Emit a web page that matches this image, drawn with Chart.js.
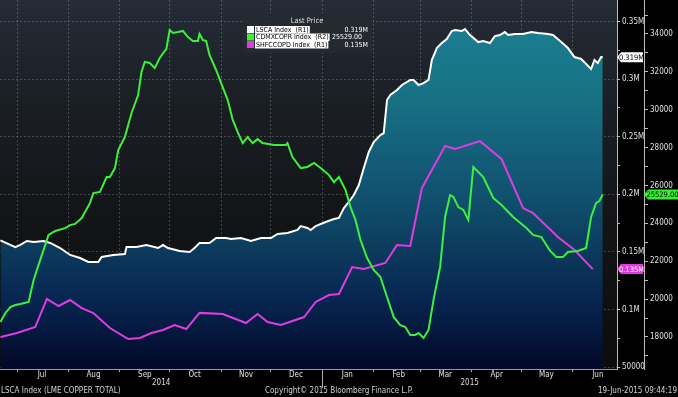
<!DOCTYPE html>
<html>
<head>
<meta charset="utf-8">
<title>LSCA Index (LME COPPER TOTAL)</title>
<script src="https://cdn.jsdelivr.net/npm/chart.js@4.4.1/dist/chart.umd.min.js"></script>
<style>
  html, body { margin: 0; padding: 0; background: #000; }
  canvas { display: block; }
</style>
</head>
<body>
<canvas id="chart" width="678" height="397"></canvas>
<script>
// LME copper stocks (R1), COMEX copper (R2), SHFE copper stocks (R1)

// x values are days counted from 1-Jul-2014
const monthStarts = [0, 31, 62, 92, 123, 153, 184, 215, 243, 274, 304, 335];
const monthLabels = ['Jul', 'Aug', 'Sep', 'Oct', 'Nov', 'Dec', 'Jan', 'Feb', 'Mar', 'Apr', 'May', 'Jun'];
const yearLabels = ['2014', '2015'];
const yearBreak = 184; // 1-Jan-2015

const lscaDays = [-10, -1, 2, 6, 10, 16, 20, 26, 32, 38, 43, 49, 51, 58, 65, 66, 72, 78, 85, 88,
  91, 98, 104, 107, 110, 116, 120, 126, 129, 135, 141, 147, 153, 157, 163, 169, 171, 175, 177, 180,
  186, 191, 194, 197, 200, 203, 206, 209, 212, 215, 219, 221, 223, 225, 229, 232, 237, 239, 242, 245,
  248, 250, 253, 256, 259, 262, 264, 268, 270, 273, 278, 281, 285, 288, 291, 294, 296, 300, 305, 310,
  314, 320, 323, 328, 332, 336, 340, 343, 346, 348, 350, 352, 353];
const lscaValues = [160000, 154000, 156000, 159400, 158500, 159400, 157700, 153300, 147300, 144600,
  141200, 141200, 145500, 147300, 148100, 154200, 154200, 155900, 153300, 155900,
  153300, 150700, 149900, 153300, 157700, 157700, 162000, 162000, 161100, 162000,
  159400, 162000, 162000, 165500, 166300, 169000, 172400, 170700, 169000, 172400,
  175900, 178500, 179400, 188000, 193300, 199300, 208000, 222800, 236700, 245300,
  251400, 253100, 281800, 286100, 290500, 294800, 299200, 299200, 294800, 296500,
  299200, 316500, 326900, 331300, 334700, 341700, 342600, 341700, 343400, 338200,
  332100, 333000, 331300, 337300, 338200, 340800, 338200, 339100, 339100, 340800,
  339900, 339100, 338200, 332100, 326900, 319100, 317400, 313000, 308700, 316500,
  313900, 319100, 319000];

const cdmxDays = [-10, -7, -4, -1, 2, 7, 10, 14, 19, 23, 29, 32, 35, 39, 44, 46, 50, 54, 56, 59,
  61, 65, 69, 73, 75, 77, 80, 83, 86, 89, 90, 92, 94, 97, 100, 103, 106, 109, 110, 112,
  114, 116, 120, 123, 127, 130, 133, 136, 139, 142, 145, 148, 155, 162, 163, 166, 171, 175, 179, 183,
  188, 191, 194, 198, 201, 204, 207, 211, 215, 219, 223, 227, 231, 234, 237, 240, 242, 245, 248, 251,
  255, 258, 261, 263, 266, 269, 272, 275, 281, 287, 292, 299, 307, 311, 316, 321, 325, 329, 332, 338,
  343, 346, 349, 351, 353];
const cdmxValues = [18790, 19270, 19580, 19690, 19740, 19850, 21010, 22070, 23390, 23600,
  23750, 23910, 23970, 24280, 25080, 25600, 25660, 26450, 26450, 26920,
  27870, 28560, 29830, 30780, 31990, 32520, 32470, 32200, 32730, 33100,
  33210, 34210, 34050, 34100, 34160, 33840, 33630, 33630, 34000, 33680,
  33630, 32890, 32100, 31410, 30510, 29460, 28820, 28240, 28560, 28240,
  28450, 28240, 28140, 28140, 28240, 27500, 26920, 26980, 27190, 26920,
  26550, 26180, 26450, 25760, 24860, 24180, 23120, 22170, 21540, 21170,
  20110, 19060, 18630, 18530, 18110, 18110, 18210, 17950, 18370, 19950,
  21700, 24340, 25500, 25400, 24860, 24710, 24180, 26980, 26450, 25340,
  24970, 24340, 23750, 23390, 23280, 22590, 22220, 22220, 22490, 22540,
  22700, 24340, 25080, 25180, 25529];

const shfeDays = [-10, 0, 11, 18, 25, 32, 39, 46, 56, 67, 74, 81, 88, 95, 102, 110, 124, 138, 145, 151,
  159, 173, 180, 188, 194, 202, 209, 222, 229, 237, 244, 258, 264, 279, 292, 305, 311, 326, 336, 347];
const shfeValues = [76100, 79500, 84800, 109100, 103000, 108200, 101200, 96900, 83900, 74300,
  75200, 79500, 82200, 86500, 83000, 97000, 96000, 88200, 96000, 89100,
  86500, 93400, 106500, 112500, 113400, 136800, 135100, 140300, 155900, 155100,
  205400, 241900, 239300, 246200, 230600, 188000, 183700, 162900, 151600, 135000];

const seriesNames = ['LSCA Index  (R1)', 'CDMXCOPR Index  (R2)', 'SHFCCOPD Index  (R1)'];
const seriesColors = ['#ffffff', '#3cf03c', '#e03ce0'];

const FONT = "'Liberation Sans Narrow', 'DejaVu Sans Condensed', 'Liberation Sans', sans-serif";
const GRID = 'rgba(255, 255, 255, 0.2)';

function toPoints(days, values) {
  return days.map((d, i) => ({ x: d, y: values[i] }));
}

// R1 labels: 0.35M ... 0.1M, 50000
function formatR1(v) {
  if (v >= 100000) return parseFloat((v / 1e6).toFixed(3)) + 'M';
  return String(v);
}

function last(arr) {
  return arr[arr.length - 1];
}

// teal to navy fill under the LME line
function lscaFill(context) {
  const chart = context.chart;
  const a = chart.chartArea;
  if (!a) return null;
  const g = chart.ctx.createLinearGradient(0, a.top, 0, a.bottom);
  g.addColorStop(0, '#1c8496');
  g.addColorStop(0.1, '#1a7c8e');
  g.addColorStop(0.27, '#177184');
  g.addColorStop(0.41, '#145f7a');
  g.addColorStop(0.54, '#10506d');
  g.addColorStop(0.68, '#0c3a5c');
  g.addColorStop(0.81, '#072651');
  g.addColorStop(1, '#020828');
  return g;
}

function hideMinor(ctx) {
  return ctx.tick && ctx.tick.major ? GRID : 'rgba(0,0,0,0)';
}

const backdrop = {
  id: 'backdrop',
  beforeDraw(chart) {
    const { ctx, chartArea: a } = chart;
    ctx.save();
    ctx.fillStyle = '#000';
    ctx.fillRect(0, 0, chart.width, chart.height);
    const g = ctx.createLinearGradient(0, a.top, 0, a.bottom);
    g.addColorStop(0, '#252c36');
    g.addColorStop(0.3, '#1a1e24');
    g.addColorStop(0.6, '#121416');
    g.addColorStop(1, '#0b0c0e');
    ctx.fillStyle = g;
    ctx.fillRect(a.left, a.top, a.right - a.left, a.bottom - a.top);
    ctx.restore();
  }
};

function badge(ctx, x0, x1, yc, fill, textColor, text) {
  ctx.beginPath();
  ctx.moveTo(x0, yc);
  ctx.lineTo(x0 + 4, yc - 5);
  ctx.lineTo(x1, yc - 5);
  ctx.lineTo(x1, yc + 5);
  ctx.lineTo(x0 + 4, yc + 5);
  ctx.closePath();
  ctx.fillStyle = fill;
  ctx.fill();
  ctx.fillStyle = textColor;
  ctx.textAlign = 'center';
  ctx.textBaseline = 'middle';
  ctx.fillText(text, (x0 + 3 + x1) / 2, yc + 0.5);
}

const overlay = {
  id: 'overlay',
  afterDraw(chart) {
    const { ctx, chartArea: a } = chart;
    const x = chart.scales.x;
    const y1 = chart.scales.y1;
    const y2 = chart.scales.y2;
    ctx.save();
    ctx.font = '8px ' + FONT;

    // year row under the month labels
    const janPx = x.getPixelForValue(yearBreak);
    ctx.strokeStyle = '#aaa';
    ctx.lineWidth = 1;
    ctx.beginPath();
    ctx.moveTo(Math.round(janPx) + 0.5, a.bottom);
    ctx.lineTo(Math.round(janPx) + 0.5, a.bottom + 19);
    ctx.stroke();
    ctx.fillStyle = '#ddd';
    ctx.textAlign = 'center';
    ctx.textBaseline = 'middle';
    ctx.fillText(yearLabels[0], (a.left + janPx) / 2, a.bottom + 14);
    ctx.fillText(yearLabels[1], (janPx + a.right) / 2, a.bottom + 14);

    // footer
    ctx.fillStyle = '#d0d0d0';
    ctx.textAlign = 'left';
    ctx.fillText('LSCA Index (LME COPPER TOTAL)', 1, 391);
    ctx.textAlign = 'center';
    ctx.fillText('Copyright\u00a9 2015 Bloomberg Finance L.P.', 339, 391);
    ctx.textAlign = 'right';
    ctx.fillText('19-Jun-2015 09:44:19', 677, 391);

    // last price badges on the axes
    ctx.font = '7.5px ' + FONT;
    const lsca = last(lscaValues), cdmx = last(cdmxValues), shfe = last(shfeValues);
    badge(ctx, y1.left, y1.right - 1, y1.getPixelForValue(lsca), '#ffffff', '#000', formatR1(lsca));
    badge(ctx, y1.left, y1.right - 1, y1.getPixelForValue(shfe), seriesColors[2], '#fff', formatR1(shfe));
    badge(ctx, y2.left, y2.right, y2.getPixelForValue(cdmx), '#33ee33', '#000', cdmx.toFixed(2));

    // legend box
    ctx.fillStyle = 'rgba(38, 42, 48, 0.85)';
    ctx.beginPath();
    ctx.roundRect(242, 13, 131, 40, 4);
    ctx.fill();
    ctx.font = '7.5px ' + FONT;
    ctx.fillStyle = '#ddd';
    ctx.textAlign = 'center';
    ctx.fillText('Last Price', 307, 21);
    ctx.font = '7px ' + FONT;
    const values = [formatR1(lsca), cdmx.toFixed(2), formatR1(shfe)];
    const valueRight = [368, 362, 368];
    seriesNames.forEach((name, i) => {
      const yc = 29.5 + i * 7.5;
      ctx.fillStyle = seriesColors[i];
      ctx.fillRect(247, yc - 3.5, 7, 7);
      const w = ctx.measureText(name).width;
      ctx.fillStyle = '#fff';
      ctx.fillRect(255, yc - 3.5, w + 2, 7.5);
      ctx.fillStyle = '#000';
      ctx.textAlign = 'left';
      ctx.fillText(name, 256, yc + 0.5);
      ctx.fillStyle = '#fff';
      ctx.textAlign = 'right';
      ctx.fillText(values[i], valueRight[i], yc + 0.5);
    });
    ctx.restore();
  }
};

Chart.defaults.font.family = FONT;
Chart.defaults.font.size = 8;
Chart.defaults.color = '#e0e0e0';

new Chart(document.getElementById('chart'), {
  type: 'line',
  data: {
    datasets: [
      {
        label: seriesNames[1],
        data: toPoints(cdmxDays, cdmxValues),
        yAxisID: 'y2',
        borderColor: seriesColors[1],
        borderWidth: 2,
        order: 1
      },
      {
        label: seriesNames[2],
        data: toPoints(shfeDays, shfeValues),
        yAxisID: 'y1',
        borderColor: seriesColors[2],
        borderWidth: 2,
        order: 2
      },
      {
        label: seriesNames[0],
        data: toPoints(lscaDays, lscaValues),
        yAxisID: 'y1',
        borderColor: seriesColors[0],
        borderWidth: 2,
        fill: 'start',
        backgroundColor: lscaFill,
        order: 3
      }
    ]
  },
  options: {
    responsive: false,
    devicePixelRatio: 1,
    animation: false,
    layout: { padding: 0 },
    elements: {
      point: { radius: 0 },
      line: { tension: 0 }
    },
    plugins: {
      legend: { display: false },
      tooltip: { enabled: false }
    },
    scales: {
      x: {
        type: 'linear',
        min: -10.26,
        max: 361.6,
        z: 1,
        afterBuildTicks: scale => {
          scale.ticks = monthStarts.map(v => ({ value: v }));
        },
        afterFit: scale => {
          scale.height = 28;
          scale.paddingLeft = 0;
          scale.paddingRight = 0;
        },
        ticks: {
          autoSkip: false,
          maxRotation: 0,
          labelOffset: 25,
          padding: -2,
          callback: (v, i) => monthLabels[i]
        },
        grid: {
          color: GRID,
          tickColor: '#aaa',
          tickLength: 3
        },
        border: { color: '#999', dash: [2, 2] }
      },
      y1: {
        type: 'linear',
        position: 'right',
        weight: 0,
        min: 48300,
        max: 368600,
        z: 1,
        afterBuildTicks: scale => {
          const t = [];
          for (let v = 50000; v <= 350000; v += 25000) t.push({ value: v, major: v % 50000 === 0 });
          scale.ticks = t;
        },
        afterFit: scale => {
          scale.width = 27;
          scale.paddingTop = 0;
          scale.paddingBottom = 0;
        },
        ticks: {
          autoSkip: false,
          padding: 2,
          callback: function (v, i, ticks) {
            return ticks[i].major ? formatR1(v) : '';
          }
        },
        grid: {
          color: hideMinor,
          tickColor: '#bbb',
          tickLength: 3
        },
        border: { color: '#bbb', dash: [2, 2] }
      },
      y2: {
        type: 'linear',
        position: 'right',
        weight: 1,
        min: 16310,
        max: 35795,
        afterBuildTicks: scale => {
          const t = [];
          for (let v = 17000; v <= 35000; v += 1000) t.push({ value: v, major: v % 2000 === 0 });
          scale.ticks = t;
        },
        afterFit: scale => {
          scale.width = 34;
          scale.paddingTop = 0;
          scale.paddingBottom = 0;
        },
        ticks: {
          autoSkip: false,
          padding: 2,
          callback: function (v, i, ticks) {
            return ticks[i].major ? String(v) : '';
          }
        },
        grid: {
          drawOnChartArea: false,
          tickColor: '#bbb',
          tickLength: 4
        },
        border: { color: '#bbb' }
      }
    }
  },
  plugins: [backdrop, overlay]
});
</script>
</body>
</html>
